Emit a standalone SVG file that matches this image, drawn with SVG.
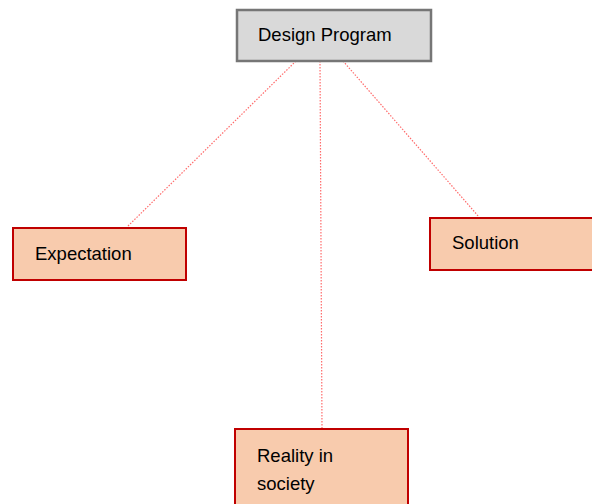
<svg xmlns="http://www.w3.org/2000/svg" width="592" height="504" viewBox="0 0 592 504">
<style>
.box{fill:#f8cbad;stroke:#c00000;stroke-width:2}
.top{fill:#d9d9d9;stroke:#767676;stroke-width:2.5}
.t{font-family:"Liberation Sans",Arial,sans-serif;font-size:18.5px;fill:#000}
.c{stroke:#ff6b6b;stroke-width:1.2;stroke-dasharray:1.5 1.5;fill:none}
</style>
<rect width="592" height="504" fill="#fff"/>
<g id="connectors">
<line class="c" x1="296" y1="61" x2="127" y2="227"/>
<line class="c" x1="320" y1="61" x2="322" y2="428"/>
<line class="c" x1="343" y1="61" x2="479" y2="217"/>
</g>
<g id="design-program">
<rect class="top" x="237" y="10" width="194" height="51"/>
<text class="t" x="258" y="41">Design Program</text>
</g>
<g id="expectation">
<rect class="box" x="13" y="228" width="173" height="52"/>
<text class="t" x="35" y="260">Expectation</text>
</g>
<g id="solution">
<rect class="box" x="430" y="218" width="170" height="52"/>
<text class="t" x="452" y="249">Solution</text>
</g>
<g id="reality">
<rect class="box" x="235" y="429" width="173" height="90"/>
<text class="t" x="257" y="462">Reality in</text>
<text class="t" x="257" y="490">society</text>
</g>
</svg>
